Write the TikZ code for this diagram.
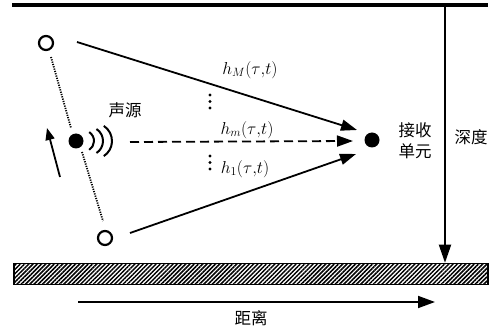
\documentclass[tikz,border=0pt]{standalone}
\usepackage{fontspec}
\newfontfamily\cjk{Noto Sans CJK SC}
\usetikzlibrary{arrows.meta,patterns.meta}
\begin{document}
\begin{tikzpicture}[x=1pt,y=-1pt,
  hollow/.style={circle,draw,line width=2.2pt,minimum size=14pt,inner sep=0pt},
  solid/.style={circle,fill,minimum size=15pt,inner sep=0pt},
  ray/.style={line width=1.8pt,-{Triangle[length=16pt,width=11pt]}},
  cjklabel/.style={font=\cjk\fontsize{16.5}{21}\selectfont,inner sep=0pt,align=center},
  mathlabel/.style={font=\fontsize{16.5}{19}\selectfont,inner sep=0pt},
  dotline/.style={line width=1.8pt,dash pattern=on 1.2pt off 1.2pt},
  wave/.style={line width=2pt},
  smalldot/.style={circle,fill,minimum size=3.4pt,inner sep=0pt}]
\useasboundingbox (0,0) rectangle (493,331);
% surface
\coordinate (sl) at (12,5);
\coordinate (sr) at (488,5);
\draw[line width=4pt] (sl) -- (sr);
% seabed
\node[draw,line width=1.2pt,minimum width=474pt,minimum height=21pt,inner sep=0pt,
  pattern={Lines[angle=45,distance=3pt,line width=1.5pt]}] (bed) at (251,274) {};
% nodes
\node[hollow] (tc) at (46,43) {};
\node[solid] (src) at (76,141) {};
\node[hollow] (bc) at (105,238) {};
\node[solid] (rx) at (372,140) {};
% dotted track
\coordinate (d1a) at (51,57);
\coordinate (d1b) at (71,128);
\coordinate (d2a) at (82,152);
\coordinate (d2b) at (103,221);
\draw[dotline] (d1a) -- (d1b);
\draw[dotline] (d2a) -- (d2b);
% movement arrow
\coordinate (ma) at (60,177);
\coordinate (mb) at (47,128);
\draw[line width=1.8pt,-{Triangle[length=12pt,width=9pt]}] (ma) -- (mb);
% waves
\draw[wave] (83.4,141) ++(-57:10.6) arc[start angle=-57,end angle=57,radius=10.6];
\draw[wave] (88.7,141) ++(-57:14.3) arc[start angle=-57,end angle=57,radius=14.3];
\draw[wave] (94,141) ++(-57:18) arc[start angle=-57,end angle=57,radius=18];
% rays
\coordinate (r1) at (77,42);
\coordinate (t1) at (357,130);
\coordinate (r2) at (130,142);
\coordinate (t2) at (353,141);
\coordinate (r3) at (130,233);
\coordinate (t3) at (356,154);
\draw[ray] (r1) -- (t1);
\draw[ray,dash pattern=on 9pt off 5pt] (r2) -- (t2);
\draw[ray] (r3) -- (t3);
% labels
\node[mathlabel] (hM) at (250,70) {$h_M(\tau{,}t)$};
\node[mathlabel] (hm) at (247,130) {$h_m(\tau{,}t)$};
\node[mathlabel] (h1) at (245,169) {$h_1(\tau{,}t)$};
\node[smalldot] (v1) at (210,95) {};
\node[smalldot] (v2) at (210,101.5) {};
\node[smalldot] (v3) at (210,108) {};
\node[smalldot] (v4) at (210,156) {};
\node[smalldot] (v5) at (210,162.5) {};
\node[smalldot] (v6) at (210,169) {};
\node[cjklabel] (sy) at (125,110) {声源};
\node[cjklabel] (js) at (415,141) {接收\\单元};
\node[cjklabel] (sd) at (471,137) {深度};
\node[cjklabel] (jl) at (251,318) {距离};
% depth arrow
\coordinate (dt) at (445,7);
\draw[line width=1.8pt,-{Triangle[length=18pt,width=12pt]}] (dt) -- (bed.north -| dt);
% distance arrow
\coordinate (da) at (78,302);
\coordinate (db) at (435,302);
\draw[line width=1.8pt,-{Triangle[length=17pt,width=12pt]}] (da) -- (db);
\end{tikzpicture}
\end{document}
